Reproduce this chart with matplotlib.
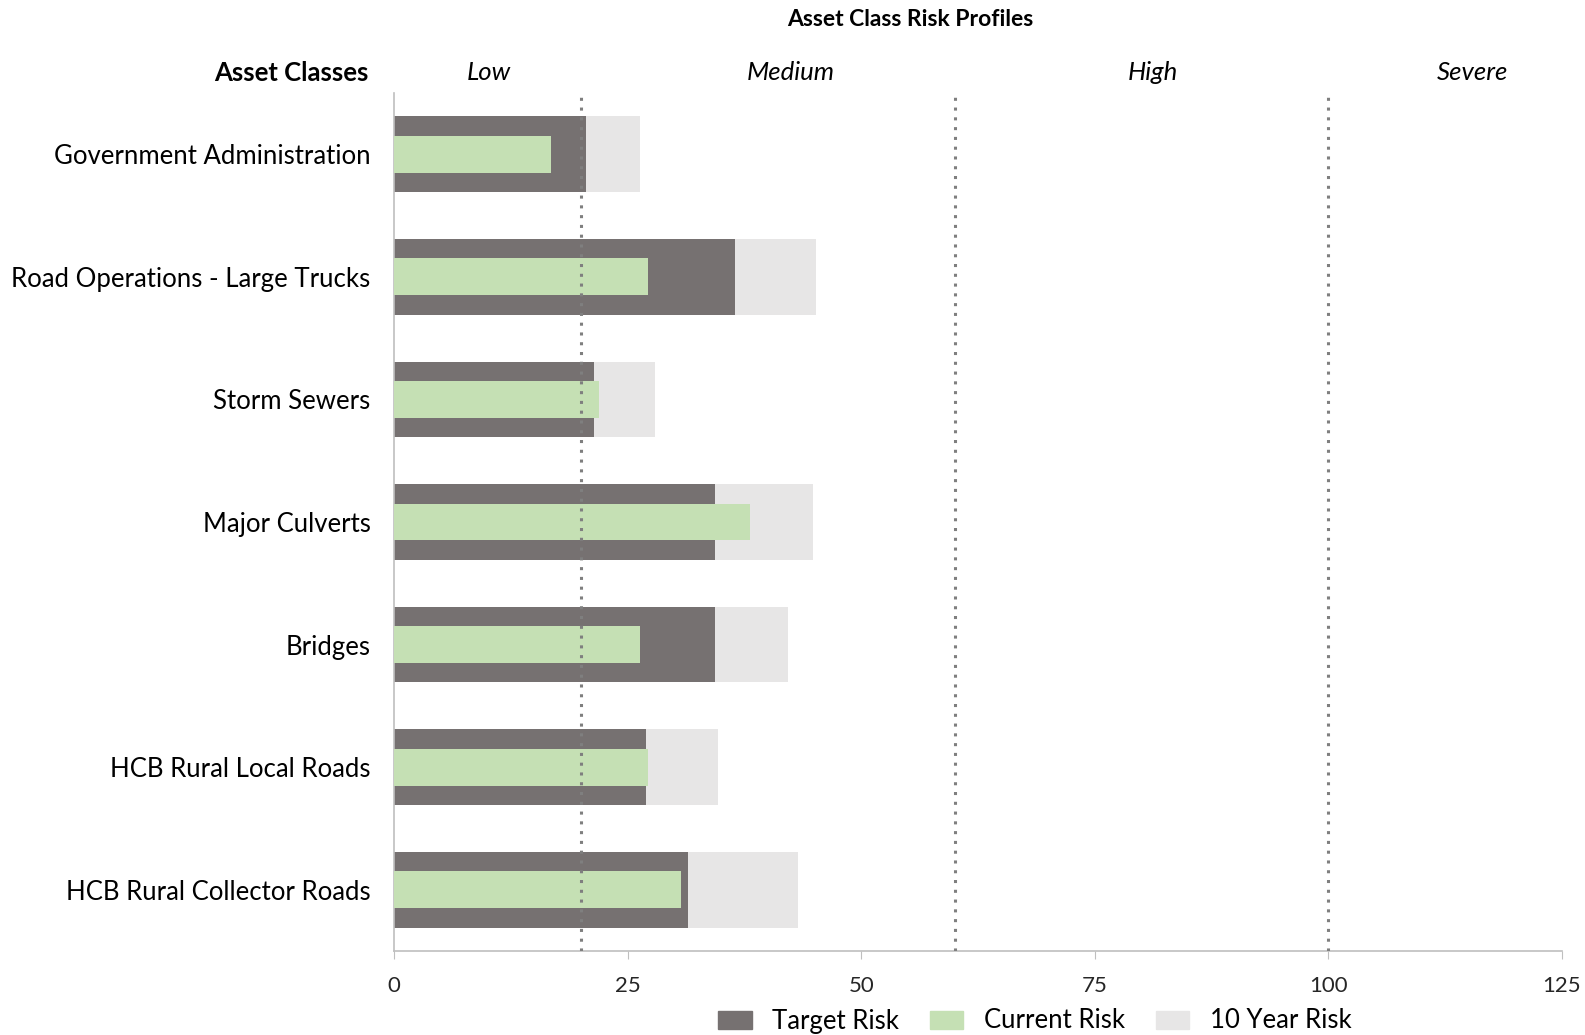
import numpy as np
import matplotlib
matplotlib.use("Agg")
import matplotlib.pyplot as plt
from matplotlib.patches import Patch

plt.rcParams["font.family"] = ["Lato", "DejaVu Sans"]

# Asset classes, top to bottom
categories = [
    "Government Administration",
    "Road Operations - Large Trucks",
    "Storm Sewers",
    "Major Culverts",
    "Bridges",
    "HCB Rural Local Roads",
    "HCB Rural Collector Roads",
]
target_risk = [20.5, 36.5, 21.4, 34.4, 34.4, 27.0, 31.5]
current_risk = [16.8, 27.2, 21.9, 38.1, 26.3, 27.2, 30.7]
ten_year_risk = [26.3, 45.2, 27.9, 44.8, 42.2, 34.7, 43.2]

# risk bands
band_names = ["Low", "Medium", "High", "Severe"]
band_label_pos = [10.2, 42.5, 81.2, 115.4]
band_limits = [20, 60, 100]
x_ticks = [0, 25, 50, 75, 100, 125]

col_target = "#767171"
col_current = "#C5E0B4"
col_ten = "#E7E6E6"

fig = plt.figure(figsize=(15.85, 10.35), dpi=100)
ax = fig.add_axes([394 / 1585, 1 - 951 / 1035, (1562 - 394) / 1585, (951 - 93) / 1035])

y = np.arange(len(categories))
ax.barh(y, ten_year_risk, height=0.617, color=col_ten, zorder=1)
ax.barh(y, target_risk, height=0.617, color=col_target, zorder=2)
ax.barh(y, current_risk, height=0.30, color=col_current, zorder=3)

for lim in band_limits:
    ax.axvline(lim, color="#7f7f7f", linestyle=(0, (1, 2.2)), linewidth=2.2, zorder=4)

ax.set_xlim(0, 125)
ax.set_ylim(len(categories) - 0.5, -0.5)
ax.set_xticks(x_ticks)
ax.set_xticklabels([str(t) for t in x_ticks], fontsize=16, color="#262626")
ax.tick_params(axis="x", direction="out", length=6, color="#bfbfbf", pad=12)
ax.set_yticks(y)
ax.set_yticklabels(categories, fontsize=18.5, color="#000000")
ax.tick_params(axis="y", length=0, pad=17)

for side in ["top", "right"]:
    ax.spines[side].set_visible(False)
ax.spines["left"].set_color("#bfbfbf")
ax.spines["bottom"].set_color("#bfbfbf")
ax.spines["left"].set_linewidth(1.2)
ax.spines["bottom"].set_linewidth(1.2)

# band headers
head_y = 1 + (93 - 73) / (951 - 93)
for name, xp in zip(band_names, band_label_pos):
    ax.text(xp, head_y, name, transform=ax.get_xaxis_transform(),
            ha="center", va="center", fontsize=18.5, style="italic", color="#000000")
ax.text(-0.022, head_y, "Asset Classes", transform=ax.transAxes,
        ha="right", va="center", fontsize=18.5, fontweight="bold")

fig.text(910 / 1585, 1 - 19 / 1035, "Asset Class Risk Profiles", ha="center", va="center",
         fontsize=16.5, fontweight="bold")

handles = [Patch(color=col_target), Patch(color=col_current), Patch(color=col_ten)]
fig.legend(handles, ["Target Risk", "Current Risk", "10 Year Risk"],
           loc="center", bbox_to_anchor=(1035 / 1585, 1 - 1021 / 1035), ncol=3,
           frameon=False, fontsize=18.5, handlelength=1.3, handleheight=0.7,
           columnspacing=1.2, handletextpad=0.8)

fig.savefig("out.png", dpi=100)
